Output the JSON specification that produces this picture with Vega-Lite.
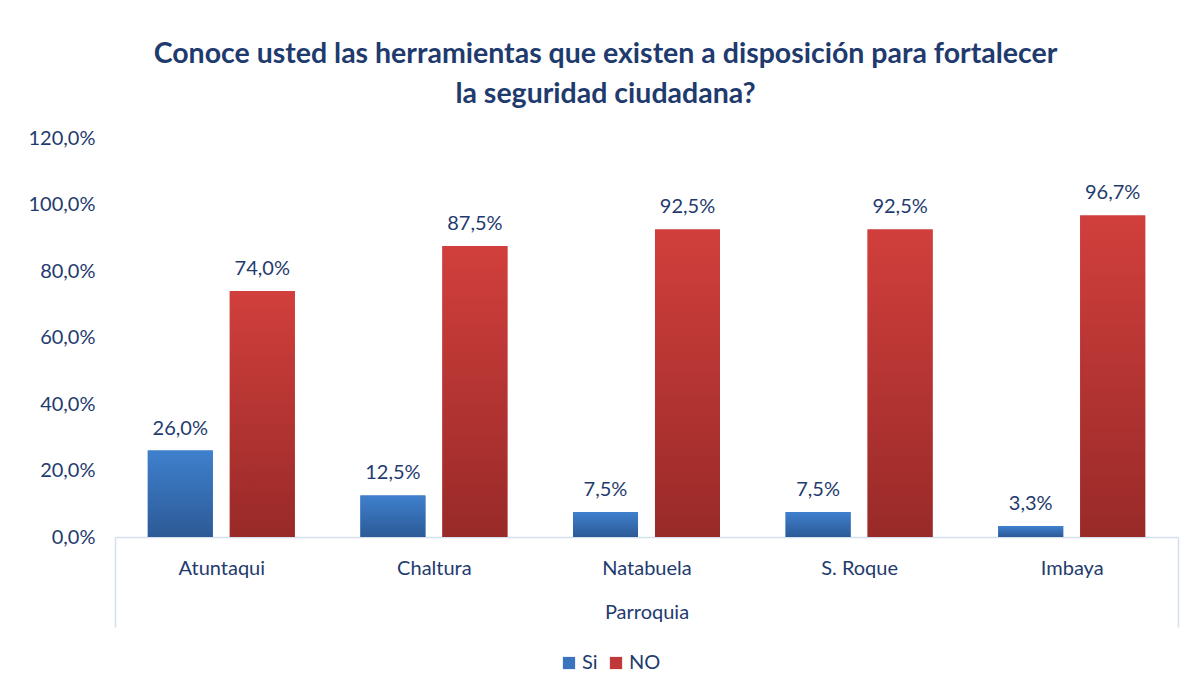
{
  "$schema": "https://vega.github.io/schema/vega-lite/v6.json",
  "width": 1063,
  "height": 399,
  "autosize": {"type": "none"},
  "padding": {"left": 115, "top": 138, "right": 14, "bottom": 153},
  "background": "white",
  "title": {
    "text": ["Conoce usted las herramientas que existen a disposición para fortalecer", "la seguridad ciudadana?"],
    "font": "Lato",
    "fontSize": 28.5,
    "fontWeight": "bold",
    "color": "#1F3B6E",
    "lineHeight": 40,
    "anchor": "middle",
    "frame": "group",
    "dx": -41,
    "offset": 20
  },
  "config": {
    "locale": {"number": {"decimal": ",", "thousands": ".", "grouping": [3], "currency": ["$", ""]}},
    "view": {"stroke": null},
    "font": "Lato"
  },
  "data": {
    "values": [
      {"Parroquia": "Atuntaqui", "Respuesta": "Si", "Valor": 0.26},
      {"Parroquia": "Atuntaqui", "Respuesta": "NO", "Valor": 0.74},
      {"Parroquia": "Chaltura", "Respuesta": "Si", "Valor": 0.125},
      {"Parroquia": "Chaltura", "Respuesta": "NO", "Valor": 0.875},
      {"Parroquia": "Natabuela", "Respuesta": "Si", "Valor": 0.075},
      {"Parroquia": "Natabuela", "Respuesta": "NO", "Valor": 0.925},
      {"Parroquia": "S. Roque", "Respuesta": "Si", "Valor": 0.075},
      {"Parroquia": "S. Roque", "Respuesta": "NO", "Valor": 0.925},
      {"Parroquia": "Imbaya", "Respuesta": "Si", "Valor": 0.033},
      {"Parroquia": "Imbaya", "Respuesta": "NO", "Valor": 0.967}
    ]
  },
  "encoding": {
    "x": {
      "field": "Parroquia",
      "type": "nominal",
      "sort": null,
      "scale": {"paddingInner": 0, "paddingOuter": 0},
      "axis": {
        "title": "Parroquia",
        "titleFont": "Lato",
        "titleFontSize": 20,
        "titleFontWeight": "normal",
        "titleColor": "#1F3B6E",
        "titleY": 75,
        "titleBaseline": "middle",
        "labelAngle": 0,
        "labelFont": "Lato",
        "labelFontSize": 20,
        "labelColor": "#1F3B6E",
        "labelPadding": -69,
        "domainColor": "#D5E0EE",
        "domainWidth": 1.5,
        "tickBand": "extent",
        "tickSize": 90,
        "tickWidth": 1.5,
        "tickColor": "#D5E0EE",
        "tickOpacity": {"condition": {"test": "datum.extra || datum.value == 'Imbaya'", "value": 1}, "value": 0}
      }
    },
    "xOffset": {
      "field": "Respuesta",
      "type": "nominal",
      "scale": {"domain": ["Si", "NO"], "paddingInner": 0.207, "paddingOuter": 0.4}
    },
    "y": {
      "field": "Valor",
      "type": "quantitative",
      "scale": {"domain": [0, 1.2], "nice": false},
      "axis": {
        "title": null,
        "values": [0, 0.2, 0.4, 0.6, 0.8, 1.0, 1.2],
        "format": ".1%",
        "grid": false,
        "domain": false,
        "ticks": false,
        "labelFont": "Lato",
        "labelFontSize": 20,
        "labelColor": "#1F3B6E",
        "labelPadding": 20
      }
    }
  },
  "layer": [
    {
      "mark": {"type": "bar"},
      "encoding": {
        "color": {
          "field": "Respuesta",
          "type": "nominal",
          "scale": {"domain": ["Si", "NO"], "range": ["#3A74BE", "#C0383A"]},
          "legend": {
            "title": null,
            "orient": "none",
            "legendX": 444,
            "legendY": 515,
            "direction": "horizontal",
            "symbolType": "square",
            "symbolSize": 150,
            "symbolStrokeWidth": 0,
            "labelFont": "Lato",
            "labelFontSize": 20,
            "labelColor": "#1F3B6E",
            "labelOffset": 3,
            "columnPadding": 8
          }
        }
      }
    },
    {
      "transform": [{"filter": "datum.Respuesta == 'Si'"}],
      "mark": {
        "type": "bar",
        "color": {"gradient": "linear", "x1": 0, "y1": 0, "x2": 0, "y2": 1, "stops": [{"offset": 0, "color": "#3F80CE"}, {"offset": 1, "color": "#2C5A96"}]}
      }
    },
    {
      "transform": [{"filter": "datum.Respuesta == 'NO'"}],
      "mark": {
        "type": "bar",
        "color": {"gradient": "linear", "x1": 0, "y1": 0, "x2": 0, "y2": 1, "stops": [{"offset": 0, "color": "#D13F3C"}, {"offset": 1, "color": "#982A28"}]}
      }
    },
    {
      "mark": {"type": "text", "baseline": "bottom", "dy": -12, "font": "Lato", "fontSize": 20, "color": "#1F3B6E"},
      "encoding": {
        "text": {"field": "Valor", "type": "quantitative", "format": ".1%"}
      }
    }
  ]
}
